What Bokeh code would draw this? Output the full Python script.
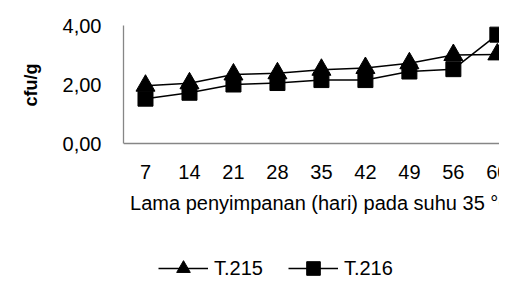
from bokeh.plotting import figure
from bokeh.models import (Range1d, FixedTicker, Legend, LegendItem, Label,
                          Span, ColumnDataSource, Title)
from bokeh.core.properties import value
from bokeh.embed import file_html
from bokeh.resources import INLINE

days = ["7", "14", "21", "28", "35", "42", "49", "56", "60"]
t215 = [1.96, 2.04, 2.34, 2.38, 2.50, 2.56, 2.72, 3.00, 3.02]
t216 = [1.52, 1.72, 2.00, 2.05, 2.15, 2.15, 2.44, 2.52, 3.69]
y_ticks = [0, 2, 4]
y_labels = ["0,00", "2,00", "4,00"]
x_title = "Lama penyimpanan (hari) pada suhu 35 °C"
y_title = "cfu/g"

xs = list(range(1, len(days) + 1))
FONT = "Liberation Sans"
FS = "20px"

# layout constants (pixels)
W, H = 499, 276
LEFT, TOP = 122, 25
AXIS_H = 118            # pixel height of the 0..4 value span
Y_MAX = 4.0
px_per_unit = AXIS_H / Y_MAX
frame_h = H - TOP
y_min = Y_MAX - frame_h / px_per_unit
frame_w = W - LEFT
px_per_cat = 44.1
x_end = 0.5 + frame_w / px_per_cat

src = ColumnDataSource(dict(x=xs, day=days, t215=t215, t216=t216,
                            zero=[0] * len(xs)))

p = figure(width=W, height=H, output_backend="svg", toolbar_location=None,
           x_range=Range1d(0.5, x_end), y_range=Range1d(y_min, Y_MAX),
           min_border_left=LEFT, min_border_right=0, min_border_top=TOP,
           min_border_bottom=0, x_axis_location=None)
p.outline_line_color = None
p.grid.visible = False

# y axis
ya = p.yaxis[0]
ya.ticker = FixedTicker(ticks=y_ticks)
ya.major_label_overrides = {t: l for t, l in zip(y_ticks, y_labels)}
ya.bounds = (0, Y_MAX)
ya.axis_line_color = "#868686"
ya.axis_line_width = 1.3
ya.major_tick_line_color = None
ya.minor_tick_line_color = None
ya.major_tick_out = 0
ya.major_tick_in = 0
ya.minor_tick_out = 0
ya.major_label_standoff = 22
ya.major_label_text_font = FONT
ya.major_label_text_font_size = FS
ya.major_label_text_color = "black"

# y title (rotated, top-aligned then shifted down to the 0..4 span centre)
p.add_layout(Title(text=y_title, align="right", offset=38, standoff=37,
                   text_font=FONT, text_font_style="bold",
                   text_font_size="18px", text_color="black"), "left")

# x axis line and labels
p.add_layout(Span(location=0, dimension="width", line_color="#868686",
                  line_width=1.3))
p.text(x="x", y="zero", text="day", source=src, y_offset=28,
       text_font=value(FONT), text_font_size=FS, text_align="center",
       text_baseline="middle", text_color="black")
p.add_layout(Label(x=(len(days) + 1) / 2, y=0, y_offset=-59, text=x_title,
                   text_font=FONT, text_font_size=FS, text_align="center",
                   text_baseline="middle", text_color="black"))

l1 = p.line("x", "t215", source=src, line_color="black", line_width=1.5)
m1 = p.scatter("x", "t215", source=src, marker="triangle", size=19,
               fill_color="black", line_color="black")
l2 = p.line("x", "t216", source=src, line_color="black", line_width=1.5)
m2 = p.scatter("x", "t216", source=src, marker="square", size=15,
               fill_color="black", line_color="black")

legend = Legend(items=[LegendItem(label="T.215", renderers=[l1, m1]),
                       LegendItem(label="T.216", renderers=[l2, m2])],
                orientation="horizontal", location=(35, -9),
                glyph_width=50, glyph_height=34, label_standoff=6, spacing=25,
                padding=0, margin=0, border_line_color=None,
                background_fill_alpha=0, label_text_font=FONT,
                label_text_font_size=FS, label_text_color="black")
p.add_layout(legend, "center")

open("out.html", "w").write(file_html(p, INLINE))
